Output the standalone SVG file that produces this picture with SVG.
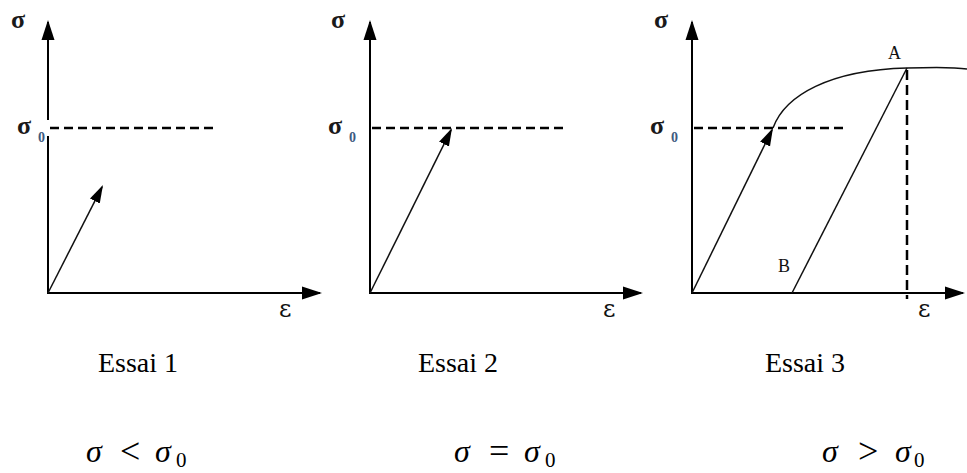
<svg xmlns="http://www.w3.org/2000/svg" width="967" height="473" viewBox="0 0 967 473">
<style>
.axis{stroke:#000;stroke-width:2;fill:none}
.vec{stroke:#111;stroke-width:1.5;fill:none}
.dash{stroke:#000;stroke-width:2.5;stroke-dasharray:9 5;fill:none}
.sig{font-family:"Liberation Serif","DejaVu Serif",serif;font-weight:bold;font-size:26px;fill:#1a1a1a}
.sub{font-family:"Liberation Serif",serif;font-weight:bold;font-size:14px;fill:#3d5a80}
.eps{font-family:"DejaVu Serif",serif;font-size:24px;fill:#111}
.pt{font-family:"Liberation Serif",serif;font-size:18px;fill:#111}
.cap{font-family:"Liberation Serif",serif;font-size:28px;fill:#000;text-anchor:middle}
.m{font-family:"Liberation Serif",serif;font-style:italic;font-size:32px;fill:#000}
.op{font-family:"Liberation Serif",serif;font-size:36px;fill:#000}
.m0{font-family:"Liberation Serif",serif;font-size:21px;fill:#000}
</style>
<defs>
<marker id="ax" markerUnits="userSpaceOnUse" markerWidth="22" markerHeight="14" viewBox="0 -7 22 14" refX="18" refY="0" orient="auto"><path d="M0,-6.5 L20,0 L0,6.5 z" fill="#000"/></marker>
<marker id="ar" markerUnits="userSpaceOnUse" markerWidth="20" markerHeight="12" viewBox="0 -6 20 12" refX="16" refY="0" orient="auto"><path d="M0,-5.5 L18,0 L0,5.5 z" fill="#000"/></marker>
</defs>

<g id="panel1">
<text class="sig" x="11" y="28">σ</text>
<text class="sig" x="17" y="134">σ</text><text class="sub" x="38" y="142">0</text>
<text class="eps" x="279" y="317">ε</text>
</g>
<g id="panel2">
<text class="sig" x="331" y="28">σ</text>
<text class="sig" x="328" y="134">σ</text><text class="sub" x="349" y="142">0</text>
<text class="eps" x="603" y="317">ε</text>
</g>
<g id="panel3">
<text class="sig" x="654" y="28">σ</text>
<text class="sig" x="650" y="134">σ</text><text class="sub" x="671" y="142">0</text>
<text class="eps" x="918" y="317">ε</text>
<text class="pt" x="888" y="59">A</text>
<text class="pt" x="778" y="272">B</text>
</g>

<g id="connectors">
<line class="axis" x1="48" y1="293" x2="48" y2="136"/>
<line class="axis" x1="48" y1="120" x2="48" y2="22" marker-end="url(#ax)"/>
<line class="axis" x1="47" y1="293" x2="320" y2="293" marker-end="url(#ax)"/>
<line class="dash" x1="50" y1="128" x2="215" y2="128"/>
<line class="vec" x1="48" y1="293" x2="102.1" y2="186.8" marker-end="url(#ar)"/>

<line class="axis" x1="370" y1="293" x2="370" y2="22" marker-end="url(#ax)"/>
<line class="axis" x1="369" y1="293" x2="641" y2="293" marker-end="url(#ax)"/>
<line class="dash" x1="372" y1="128" x2="565" y2="128"/>
<line class="vec" x1="370" y1="293" x2="451.1" y2="129.8" marker-end="url(#ar)"/>

<line class="axis" x1="692" y1="293" x2="692" y2="22" marker-end="url(#ax)"/>
<line class="axis" x1="691" y1="293" x2="963" y2="293" marker-end="url(#ax)"/>
<line class="dash" x1="694" y1="128" x2="843" y2="128"/>
<line class="vec" x1="692" y1="293" x2="772.1" y2="129.8" marker-end="url(#ar)"/>
<path class="vec" d="M773,128 C785,95 830,70 907,68 C935,67 955,67 967,69"/>
<line class="vec" x1="792" y1="293" x2="907" y2="68"/>
<line class="dash" x1="907" y1="70" x2="907" y2="299" style="stroke-dasharray:10 5"/>
</g>

<g id="captions">
<text class="cap" x="138" y="372">Essai 1</text>
<text class="cap" x="458" y="372">Essai 2</text>
<text class="cap" x="805" y="372">Essai 3</text>
</g>

<g id="formulas">
<text class="m" x="86" y="462">σ</text><text class="op" x="120" y="463">&lt;</text><text class="m" x="155" y="462">σ</text><text class="m0" x="176" y="467">0</text>
<text class="m" x="454" y="462">σ</text><text class="op" x="489" y="463">=</text><text class="m" x="524" y="462">σ</text><text class="m0" x="545" y="467">0</text>
<text class="m" x="822" y="462">σ</text><text class="op" x="858" y="463">&gt;</text><text class="m" x="895" y="462">σ</text><text class="m0" x="914" y="467">0</text>
</g>
</svg>
